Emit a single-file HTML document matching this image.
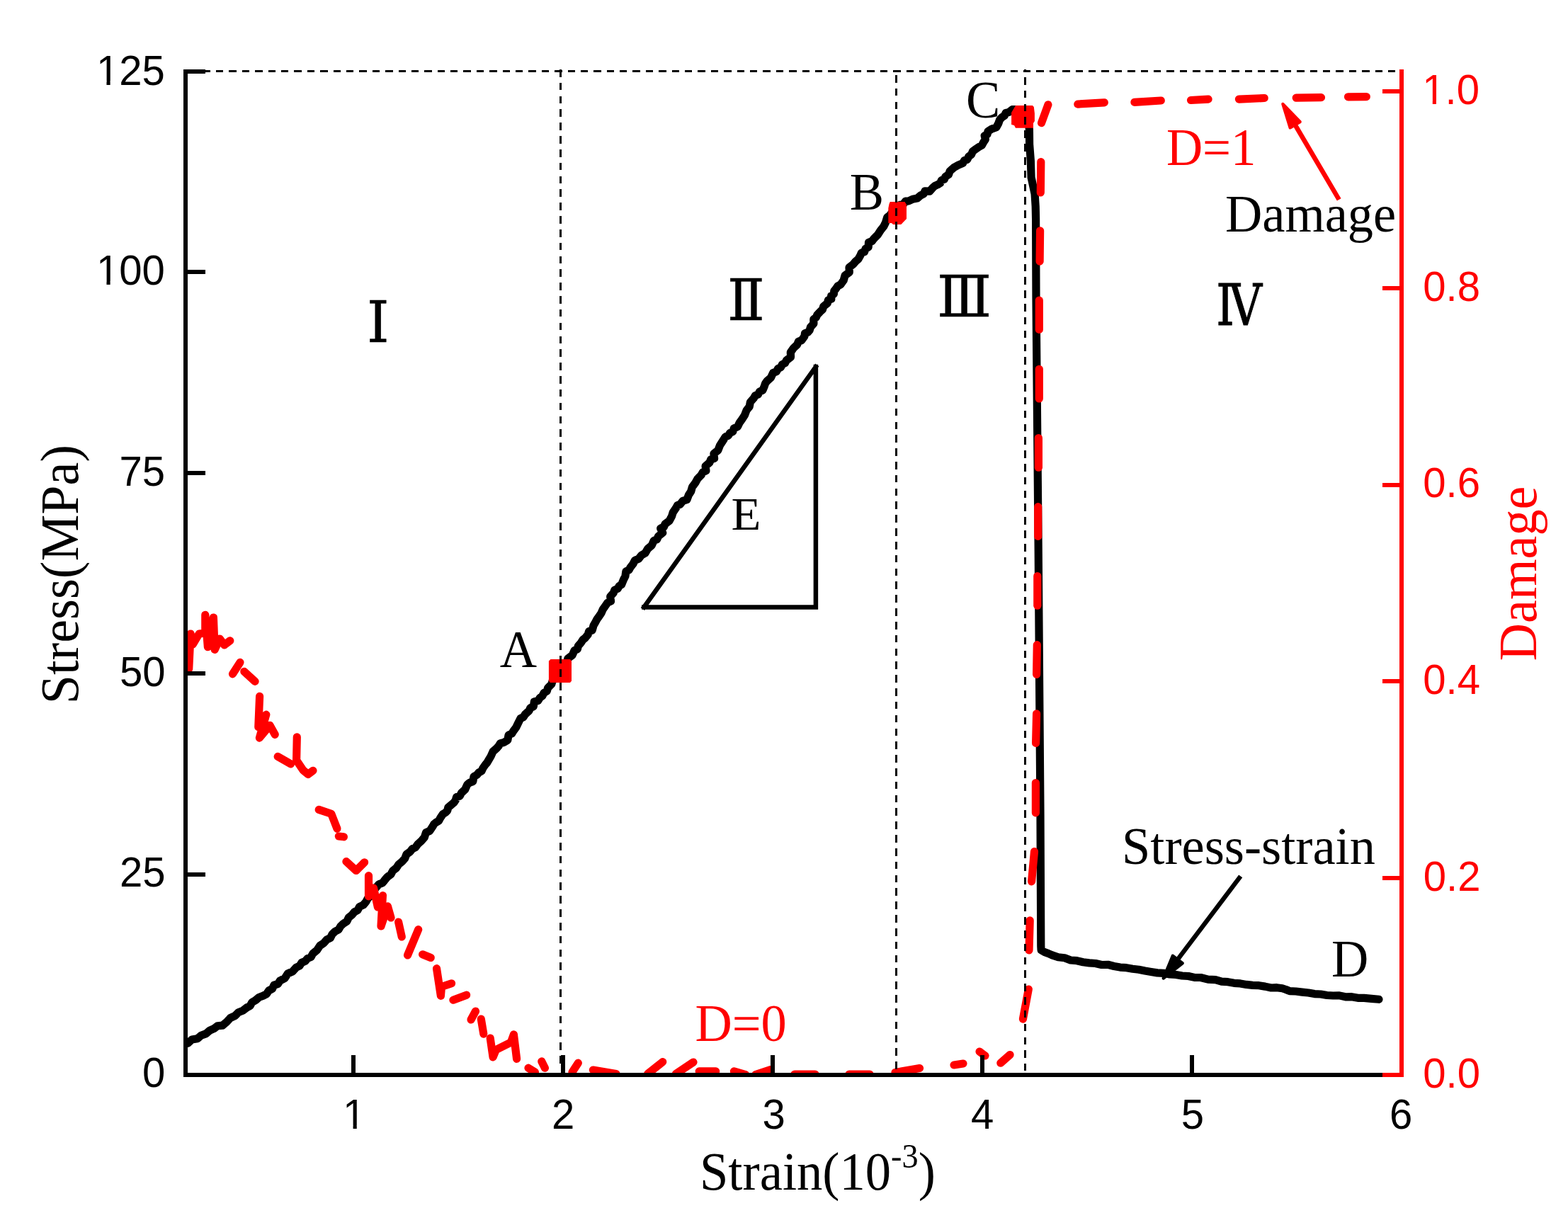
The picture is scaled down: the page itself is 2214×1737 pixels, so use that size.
<!DOCTYPE html>
<html lang="en"><head><meta charset="utf-8"><title>Stress-strain and damage curves</title>
<style>html,body{margin:0;padding:0;background:#fff}body{width:2214px;height:1737px;overflow:hidden}svg{display:block}text{white-space:pre}</style>
</head><body>
<svg width="2214" height="1737" viewBox="0 0 2214 1737" role="img" aria-label="Stress-strain curve and damage evolution versus strain">
<rect width="2214" height="1737" fill="#fff"/>
<defs><clipPath id="plot"><rect x="262" y="0" width="1717" height="1518"/></clipPath></defs>
<path d="M909.3 857.5H1151.9M1151.9 857.5V518M909.3 857.5L1151.9 518" fill="none" stroke="#000000" stroke-width="6.5" stroke-linecap="square"/>
<polyline clip-path="url(#plot)" points="261,1474.5 265.2,1473.2 271.1,1468.1 278.8,1466.7 284,1462.2 290.6,1459.9 295.8,1455.4 302,1452.7 307.2,1448.8 314.2,1448.1 320,1443.2 325.1,1437.7 331.6,1434.7 336.8,1429.6 343,1427.1 348.3,1423 353.2,1420.3 356,1415.3 360.8,1412.6 365.8,1408.4 371.5,1406.2 376.4,1403.7 379.5,1399 384.5,1396.3 386.9,1391.2 392.4,1389.6 395.3,1385 402.1,1381.5 406.4,1374.9 413.3,1371.8 418.2,1366.3 423,1364 425.9,1359.5 430.8,1357.4 434.3,1353.5 439.2,1351.3 441.8,1346.6 447.6,1341.8 451.7,1335.5 457.1,1331.9 461.4,1327 466.5,1324.4 469.1,1319.2 473.1,1315.4 478.1,1312.8 480.9,1308 484.8,1304.3 489.8,1301 492.5,1295.6 497,1292 500.4,1287.9 505,1285.3 507.6,1280.5 513,1278 516.7,1273.7 519.4,1268.6 524.6,1264.2 527.3,1257.9 531.7,1252.7 535.1,1248.7 540.3,1246.7 543.5,1242.5 547.2,1238.2 551.9,1234.7 554.7,1229.6 559.6,1225.8 562.9,1220.7 567.7,1216.7 571.7,1212.3 574,1206.4 579,1202.9 582.2,1198.8 586.9,1196.4 589.9,1192.1 594.9,1187.6 599.3,1182.5 601.5,1175.6 606.7,1173.5 610.9,1167.2 612.8,1163.8 615.8,1161.3 619.6,1159.1 621.7,1155.2 625.4,1149.6 629.1,1147.5 631.8,1144.6 632.8,1140.3 635.8,1137.7 641.4,1132.9 643.4,1129.7 644.5,1125.6 649.3,1124.1 651.4,1119.9 656.7,1114.9 659.8,1108 663.1,1105.2 667.8,1103.6 669,1096.7 673.2,1094.4 676.1,1091 680,1088.9 681.8,1084.9 685.3,1079.9 687.8,1077 689.9,1073.4 693.1,1068 696.1,1061.3 701.5,1056.5 704.1,1053.6 706.2,1049.9 711.8,1048.3 716.8,1045.2 718.1,1038 722.7,1035.9 725.1,1032.1 728.7,1027.2 731.6,1021.3 734.9,1014.6 739.1,1012.6 741.5,1008.7 747,1003.8 748.9,999.6 753.3,997.8 754.3,991 759.6,989.6 762.3,985.5 765.9,982.6 768,978.5 772.2,975.9 773.7,971.3 778.8,966.1 780.3,961 784.9,958.1 788.4,953.1 790.6,947.1 794.6,942.9 796.7,937.4 800.5,934.6 801.9,929.9 808.1,925.2 811.2,918.4 815.4,916.7 816.3,912.3 820.6,907.3 823,903.5 826.4,900.8 830.3,896 831.5,891.6 836.2,890.1 838.1,883.3 841,878.2 842.9,874.6 845.3,871.2 849,865.8 851.3,860.5 855.1,855.1 857.8,851.2 862.5,848.9 861.7,842.5 866.2,837.4 867.8,833.1 872.2,831.4 874.1,827.8 877.6,825.6 880.3,818.9 882.9,813.8 883.9,806.9 888.1,805 890,801.4 893.9,796.4 896.5,791.3 901.9,789 905.7,784.1 911,781.2 914.7,774.9 920.2,770.3 923.3,763.4 927.7,761.7 929.5,757.3 935.7,752.4 932.7,746.2 937.3,744.2 939.1,740 945.1,735.5 947,732.1 948.7,728.7 950.3,723.4 954.4,717.6 956.4,713.8 960.3,712.2 964.1,707.4 969.9,705.7 972.4,699.1 975.7,693.9 977.5,687.6 981.6,682.2 985.2,675.8 990.1,670.8 992.4,666.9 996.9,664.7 996.1,658.3 1001.9,653.3 1003.6,648.9 1008.6,647.3 1007.9,640.6 1013.9,635.8 1016.5,629 1020.3,623.1 1024.3,616.8 1028.5,615 1030.7,611.3 1034.8,609.6 1036.2,605.1 1041.6,602.4 1044,597.3 1047.8,592 1051.5,586.3 1054.1,579.4 1058.2,574.2 1059.4,567.9 1064.2,562.4 1066.3,558.7 1070.4,557 1072.5,553.1 1076.9,551.1 1079.3,545.3 1080.6,541.5 1082.9,538.3 1088.4,533.4 1091.6,526.6 1096.3,524.8 1098.6,520.5 1102.5,518.6 1104.4,514.7 1108.4,512.8 1110.4,509 1116.5,504.3 1116.3,497.4 1120.5,491.5 1125.7,486.6 1127.4,482.2 1131.9,480.6 1135.9,475 1136.5,470.8 1140.6,469.3 1143.2,466.3 1144.4,462.1 1148.9,457.1 1148.8,450.7 1152.3,448.2 1153.9,444.6 1158.6,439.6 1161.5,437 1162.7,432.8 1168.4,428.1 1169.4,423.8 1173.8,422.3 1173.6,417.8 1177.3,415.4 1177.8,411 1180.4,407.6 1182.9,404 1187,401.8 1191.1,396.1 1193.1,389.1 1199.3,384.5 1199,377.6 1205.1,372.8 1208.1,369.1 1211.7,366.2 1214.8,360.7 1216.4,357 1220.6,355.6 1222.1,351.2 1226.2,349.1 1226.5,342.5 1231.3,340.5 1234.2,336.7 1239.4,331.5 1243.4,325.2 1247.8,319.8 1250.5,314.2 1252.7,307 1256.3,304.2 1259,300.5 1263.9,298.4 1266,293.4 1270.1,289.7 1275.7,288.1 1278.6,284.2 1283.3,283.8 1288.7,281.2 1295,280.1 1300.1,275.8 1304,274 1306,269.8 1312.6,270.2 1317.4,264.8 1320.3,262.4 1324.2,260.7 1327.6,258.6 1329.4,254.6 1333.3,253.3 1334.9,249.4 1339.4,246.6 1341.2,241.6 1346.8,236.7 1353.1,233.2 1359.6,230.4 1361.6,226.7 1365.7,225.4 1367.8,221 1371.6,218.2 1373.4,213.8 1377.1,211.1 1382.2,207.5 1386.4,205.1 1388.7,200.8 1391.4,196.8 1390.2,191.7 1394.1,189.7 1395,185.4 1400,182.3 1406.8,179.8 1409.7,174.5 1411.7,168.9 1414.6,165.7 1418.4,163.3 1420.1,159.5 1424.2,158.6 1429.4,154.6 1436,154.5 1444,155 1449,162 1452,170 1453.4,182.6 1453.6,203.7 1455.4,227.1 1456.1,250.5 1461.1,273.9 1462.2,291.5 1462.6,309.1 1463,420 1466.2,778 1469,1150 1469.8,1336 1470.1,1341.7 1474.8,1344.5 1480.2,1346.5 1485.6,1348.9 1494.2,1351.8 1503.2,1352.8 1511.7,1356 1520.6,1356.7 1529.2,1358.8 1538,1359.9 1546.8,1360.5 1555.5,1362.5 1564.4,1362.3 1573,1364.5 1581.7,1366.1 1590.6,1366.7 1599.3,1368.2 1608,1369.2 1616.7,1371 1625.4,1372.5 1634.1,1373.9 1643,1374.3 1651.7,1375.9 1660.5,1376.5 1669.2,1378 1678,1378.5 1686.6,1380.4 1695.4,1380.5 1705.7,1383.1 1716.3,1383.7 1724.9,1386.2 1733.8,1386.7 1742.5,1388.3 1751.3,1388.9 1759.9,1390.4 1768.7,1391.4 1777.5,1391.7 1786.2,1393.1 1794.9,1395 1802.8,1394.7 1810.6,1395.8 1815.8,1397.5 1821.1,1399.7 1829.9,1400 1838.7,1401.1 1847.4,1402 1856.1,1403.6 1864.9,1404 1873.6,1405.5 1882.3,1406 1891.1,1405.9 1899.8,1407.8 1908.6,1407.7 1917.3,1409.3 1926.1,1409.4 1936.6,1410.3 1947,1411.3" fill="none" stroke="#000000" stroke-width="11.2" stroke-linejoin="round" stroke-linecap="round"/>
<g clip-path="url(#plot)" fill="none" stroke="#ff0000" stroke-width="11.2" stroke-linecap="round" stroke-linejoin="round">
<polyline points="266.7,944.6 269.1,895 272.3,910 281.2,895 289.8,894 289.8,868.3 293.4,913.7 301.4,872 303.2,917.4 310.3,902 316.8,910.9 324.8,904.8"/>
<polyline points="339,935.4 328.5,951.8"/>
<polyline points="344.8,948.3 360.1,962.3"/>
<polyline points="366.6,983.4 364.8,1026.7 375.8,1009.2 366.4,1042 381.1,1024.4 388.2,1037.3"/>
<polyline points="392.2,1068.4 410.6,1078.8"/>
<polyline points="419.3,1040.8 418.6,1073.6 428,1087.6 435,1093.5 442,1088.3"/>
<polyline points="450.2,1143.4 467.8,1149.2 476,1170.3"/>
<polyline points="478.3,1181 485.4,1181.8"/>
<polyline points="488.9,1216.7 502.9,1229.5 514.6,1217.8"/>
<polyline points="520.5,1236.6 520.5,1265.8 527.5,1254 533.4,1281 540.4,1264.7 538,1308 547.4,1279.9 552,1296"/>
<polyline points="562.6,1302 567.3,1323"/>
<polyline points="590.7,1312.7 575.5,1349"/>
<polyline points="596.6,1347.8 608.3,1352.5"/>
<polyline points="616.5,1367.7 622.4,1406.3 623.5,1393.5 637.6,1388.8"/>
<polyline points="639.9,1412.2 658.7,1405.2"/>
<polyline points="671.5,1428 665,1440"/>
<polyline points="679.3,1439.1 682.8,1460.2"/>
<polyline points="692.2,1466 696.1,1493 700.4,1482.5 721.4,1471.9 725.4,1460.9 729.6,1495.3"/>
<polyline points="746,1508.2 755.4,1514"/>
<polyline points="764.8,1498.9 769.4,1508.2"/>
<polyline points="816.3,1501.2 808,1514"/>
<polyline points="837.4,1511 870,1516.4"/>
<polyline points="935.7,1499.6 914.6,1516.4"/>
<polyline points="979,1500 954.4,1516.4"/>
<polyline points="987.2,1512.9 1010.7,1512.9"/>
<polyline points="1036.4,1512.9 1052.8,1517.6"/>
<polyline points="1066.9,1517.6 1088,1510.6"/>
<polyline points="1122,1517 1151,1517"/>
<polyline points="1199,1517 1228,1517"/>
<polyline points="1264,1514.5 1298.5,1508.5"/>
<polyline points="1347,1504 1360,1502"/>
<polyline points="1383,1485 1391,1491"/>
<polyline points="1426.1,1489.5 1412.8,1501.2"/>
<polyline points="1452.3,1397 1444.4,1439.1"/>
<polyline points="1454.2,1299.8 1453,1341.9"/>
<polyline points="1460.5,1202.6 1456.6,1244.8"/>
<polyline points="1462.4,1105.5 1462.4,1147.9"/>
<polyline points="1463.6,1007.9 1462.6,1049.5"/>
<polyline points="1464.3,910.7 1463.6,952.4"/>
<polyline points="1464.8,813.5 1464.8,855.2"/>
<polyline points="1465.7,715.7 1465.7,757.4"/>
<polyline points="1466.4,618.5 1466.4,660.2"/>
<polyline points="1467.3,521.3 1467.3,563"/>
<polyline points="1467.3,424.1 1467.3,465.4"/>
<polyline points="1468.6,325.8 1468.1,369.1"/>
<polyline points="1469.8,228.6 1469.3,272"/>
<polyline points="1479.9,147.8 1470.5,173.6"/>
<polyline points="1521.8,147.1 1559.3,144.8"/>
<polyline points="1601.9,144.3 1639.3,142"/>
<polyline points="1681.5,141.5 1706.1,140.1"/>
<polyline points="1749.4,140.1 1785.2,138.5"/>
<polyline points="1830.2,138.2 1865.5,137.7"/>
<polyline points="1903.5,136.8 1929.3,136.6"/>
</g>
<polygon points="777.5,931.1 805,931.1 807,933.5 807,961.5 805,963.9 777,963.9 774.9,961.5 774.9,933.5" fill="#ff0000"/>
<polygon points="1256.8,285 1277.5,285 1280,289 1280,309 1272.3,317 1261,317 1259,315 1254.3,315 1254.3,294 1255.5,288" fill="#ff0000"/>
<polygon points="1434,149 1458,149 1459.8,151 1460.9,160 1460.9,171 1459,174 1459,180.8 1434,180.8 1432,177 1428.1,176 1428.1,159" fill="#ff0000"/>
<g fill="none" stroke="#000000" stroke-width="3.0" shape-rendering="crispEdges">
<path d="M286.7 100.5H1976" stroke-dasharray="10.4 7.987"/>
<path d="M791.5 98V1509.5" stroke-dasharray="10.6 8.227" stroke-dashoffset="0"/>
<path d="M1265.5 98V1509.9" stroke-dasharray="10.6 8.227" stroke-dashoffset="10.827"/>
<path d="M1447.5 98V1511.6" stroke-dasharray="10.6 8.227" stroke-dashoffset="7.827"/>
</g>
<path d="M1890.7 281.8L1827.6 174.5" stroke="#ff0000" stroke-width="6.6" fill="none"/>
<polygon points="1811.4,146.9 1835.6,172.1 1821.7,180.3" fill="#ff0000" stroke="#ff0000" stroke-width="4.4" stroke-linejoin="round"/>
<path d="M1751.7 1237.4L1661.6 1356.6" stroke="#000000" stroke-width="6.4" fill="none"/>
<polygon points="1642.7,1381.5 1655.9,1349.8 1669.7,1360.2" fill="#000000" stroke="#000000" stroke-width="4.4" stroke-linejoin="round"/>
<g stroke="#000000" stroke-width="6.0" fill="none" stroke-linecap="butt" shape-rendering="crispEdges">
<path d="M262 98V1521"/>
<path d="M259 1518H1952"/>
<path d="M262 1235H290"/>
<path d="M262 951H290"/>
<path d="M262 668H290"/>
<path d="M262 384H290"/>
<path d="M262 101H290"/>
<path d="M499 1518V1490"/>
<path d="M795 1518V1490"/>
<path d="M1091 1518V1490"/>
<path d="M1387 1518V1490"/>
<path d="M1683 1518V1490"/>
</g>
<g stroke="#ff0000" stroke-width="6.0" fill="none" stroke-linecap="butt" shape-rendering="crispEdges">
<path d="M1979 98V1521"/>
<path d="M1952 1518H1979"/>
<path d="M1979 1240H1952"/>
<path d="M1979 962H1952"/>
<path d="M1979 685H1952"/>
<path d="M1979 407H1952"/>
<path d="M1979 129H1952"/>
</g>
<clipPath id="cf-yl125"><path clip-rule="evenodd" d="M-40 -71.8H239.2V29.9H-40ZM2.9 -5.1H15V0.6H2.9ZM20.3 -5.1H32.1V0.6H20.3Z"/></clipPath><text id="yl125" x="0" y="0" font-family="'Liberation Sans', Arial, Helvetica, sans-serif" font-size="59.8" fill="#000000" transform="translate(135.9 119.5) scale(0.972 1)" clip-path="url(#cf-yl125)">125</text>
<clipPath id="cf-yl100"><path clip-rule="evenodd" d="M-40 -71.8H239.2V29.9H-40ZM2.9 -5.1H15V0.6H2.9ZM20.3 -5.1H32.1V0.6H20.3Z"/></clipPath><text id="yl100" x="0" y="0" font-family="'Liberation Sans', Arial, Helvetica, sans-serif" font-size="59.8" fill="#000000" transform="translate(135.9 402) scale(0.972 1)" clip-path="url(#cf-yl100)">100</text>
<text id="yl75" x="0" y="0" font-family="'Liberation Sans', Arial, Helvetica, sans-serif" font-size="59.8" fill="#000000" transform="translate(168.4 685.5) scale(0.972 1)">75</text>
<text id="yl50" x="0" y="0" font-family="'Liberation Sans', Arial, Helvetica, sans-serif" font-size="59.8" fill="#000000" transform="translate(169 968.9) scale(0.972 1)">50</text>
<text id="yl25" x="0" y="0" font-family="'Liberation Sans', Arial, Helvetica, sans-serif" font-size="59.8" fill="#000000" transform="translate(169 1251.8) scale(0.972 1)">25</text>
<text id="yl0" x="0" y="0" font-family="'Liberation Sans', Arial, Helvetica, sans-serif" font-size="59.8" fill="#000000" transform="translate(201 1534.8) scale(0.972 1)">0</text>
<clipPath id="cf-xl1"><path clip-rule="evenodd" d="M-40 -71.8H239.2V29.9H-40ZM2.9 -5.1H15V0.6H2.9ZM20.3 -5.1H32.1V0.6H20.3Z"/></clipPath><text id="xl1" x="0" y="0" font-family="'Liberation Sans', Arial, Helvetica, sans-serif" font-size="59.8" fill="#000000" transform="translate(484 1594) scale(0.972 1)" clip-path="url(#cf-xl1)">1</text>
<text id="xl2" x="0" y="0" font-family="'Liberation Sans', Arial, Helvetica, sans-serif" font-size="59.8" fill="#000000" transform="translate(779 1594) scale(0.972 1)">2</text>
<text id="xl3" x="0" y="0" font-family="'Liberation Sans', Arial, Helvetica, sans-serif" font-size="59.8" fill="#000000" transform="translate(1076.5 1594) scale(0.972 1)">3</text>
<text id="xl4" x="0" y="0" font-family="'Liberation Sans', Arial, Helvetica, sans-serif" font-size="59.8" fill="#000000" transform="translate(1371 1594) scale(0.972 1)">4</text>
<text id="xl5" x="0" y="0" font-family="'Liberation Sans', Arial, Helvetica, sans-serif" font-size="59.8" fill="#000000" transform="translate(1667.8 1594) scale(0.972 1)">5</text>
<text id="xl6" x="0" y="0" font-family="'Liberation Sans', Arial, Helvetica, sans-serif" font-size="59.8" fill="#000000" transform="translate(1962 1594) scale(0.972 1)">6</text>
<text id="yr00" x="0" y="0" font-family="'Liberation Sans', Arial, Helvetica, sans-serif" font-size="59.8" fill="#ff0000" transform="translate(2009.2 1535.8) scale(0.972 1)">0.0</text>
<text id="yr02" x="0" y="0" font-family="'Liberation Sans', Arial, Helvetica, sans-serif" font-size="59.8" fill="#ff0000" transform="translate(2009.7 1257.8) scale(0.972 1)">0.2</text>
<text id="yr04" x="0" y="0" font-family="'Liberation Sans', Arial, Helvetica, sans-serif" font-size="59.8" fill="#ff0000" transform="translate(2009.2 979.9) scale(0.972 1)">0.4</text>
<text id="yr06" x="0" y="0" font-family="'Liberation Sans', Arial, Helvetica, sans-serif" font-size="59.8" fill="#ff0000" transform="translate(2009.2 702) scale(0.972 1)">0.6</text>
<text id="yr08" x="0" y="0" font-family="'Liberation Sans', Arial, Helvetica, sans-serif" font-size="59.8" fill="#ff0000" transform="translate(2009.2 425) scale(0.972 1)">0.8</text>
<clipPath id="cf-yr10"><path clip-rule="evenodd" d="M-40 -71.8H239.2V29.9H-40ZM2.9 -5.1H15V0.6H2.9ZM20.3 -5.1H32.1V0.6H20.3Z"/></clipPath><text id="yr10" x="0" y="0" font-family="'Liberation Sans', Arial, Helvetica, sans-serif" font-size="59.8" fill="#ff0000" transform="translate(2008.2 146.8) scale(0.972 1)" clip-path="url(#cf-yr10)">1.0</text>
<text id="ytitle" x="0" y="0" font-family="'Liberation Serif', 'Times New Roman', Times, serif" font-size="76" fill="#000000" transform="translate(109.9 994.3) rotate(-90) scale(0.975 1)">Stress(MPa)</text>
<text id="rtitle" x="0" y="0" font-family="'Liberation Serif', 'Times New Roman', Times, serif" font-size="76" fill="#ff0000" transform="translate(2169.4 933.5) rotate(-90) scale(0.975 1)">Damage</text>
<text id="xtitle" x="0" y="0" font-family="'Liberation Serif', 'Times New Roman', Times, serif" font-size="76" fill="#000000" transform="translate(988 1679.5) scale(0.955 1)">Strain(10<tspan dy="-30.7" font-size="48.5">-3</tspan><tspan dy="30.7">)</tspan></text>
<text id="lA" x="0" y="0" font-family="'Liberation Serif', 'Times New Roman', Times, serif" font-size="75" fill="#000000" transform="translate(705.8 941.6) scale(0.965 1)">A</text>
<text id="lB" x="0" y="0" font-family="'Liberation Serif', 'Times New Roman', Times, serif" font-size="75" fill="#000000" transform="translate(1199.7 296.1) scale(0.965 1)">B</text>
<text id="lC" x="0" y="0" font-family="'Liberation Serif', 'Times New Roman', Times, serif" font-size="75" fill="#000000" transform="translate(1364.1 166) scale(0.965 1)">C</text>
<text id="lD" x="0" y="0" font-family="'Liberation Serif', 'Times New Roman', Times, serif" font-size="75" fill="#000000" transform="translate(1880 1378.9) scale(0.965 1)">D</text>
<text id="lE" x="0" y="0" font-family="'Liberation Serif', 'Times New Roman', Times, serif" font-size="66" fill="#000000" transform="translate(1032.5 747.5) scale(1.04 1)">E</text>
<text id="d0" x="0" y="0" font-family="'Liberation Serif', 'Times New Roman', Times, serif" font-size="75" fill="#ff0000" transform="translate(981.5 1470) scale(0.965 1)">D=0</text>
<text id="d1" x="0" y="0" font-family="'Liberation Serif', 'Times New Roman', Times, serif" font-size="75" fill="#ff0000" transform="translate(1646.9 233.1) scale(0.945 1)">D=1</text>
<text id="dmg" x="0" y="0" font-family="'Liberation Serif', 'Times New Roman', Times, serif" font-size="75" fill="#000000" transform="translate(1730 326.5) scale(0.965 1)">Damage</text>
<text id="ss" x="0" y="0" font-family="'Liberation Serif', 'Times New Roman', Times, serif" font-size="75" fill="#000000" transform="translate(1584.1 1220.2) scale(0.965 1)">Stress-strain</text>
<text id="r1" x="0" y="0" font-family="'DejaVu Serif', 'Noto Serif CJK SC', serif" font-size="80" fill="#000000" transform="translate(518 482.8) scale(1.0 1)" stroke="#000000" stroke-width="0.5">Ⅰ</text>
<text id="r2" x="0" y="0" font-family="'DejaVu Serif', 'Noto Serif CJK SC', serif" font-size="80" fill="#000000" transform="translate(1027 452.1) scale(0.97 1)" stroke="#000000" stroke-width="0.5">Ⅱ</text>
<text id="r3" x="0" y="0" font-family="'DejaVu Serif', 'Noto Serif CJK SC', serif" font-size="80" fill="#000000" transform="translate(1322.9 447) scale(1.0 1)" stroke="#000000" stroke-width="0.5">Ⅲ</text>
<text id="r4" x="0" y="0" font-family="'DejaVu Serif', 'Noto Serif CJK SC', serif" font-size="80" fill="#000000" transform="translate(1717.2 458.6) scale(0.81 1)" stroke="#000000" stroke-width="1.0">Ⅳ</text>
</svg>
</body></html>
